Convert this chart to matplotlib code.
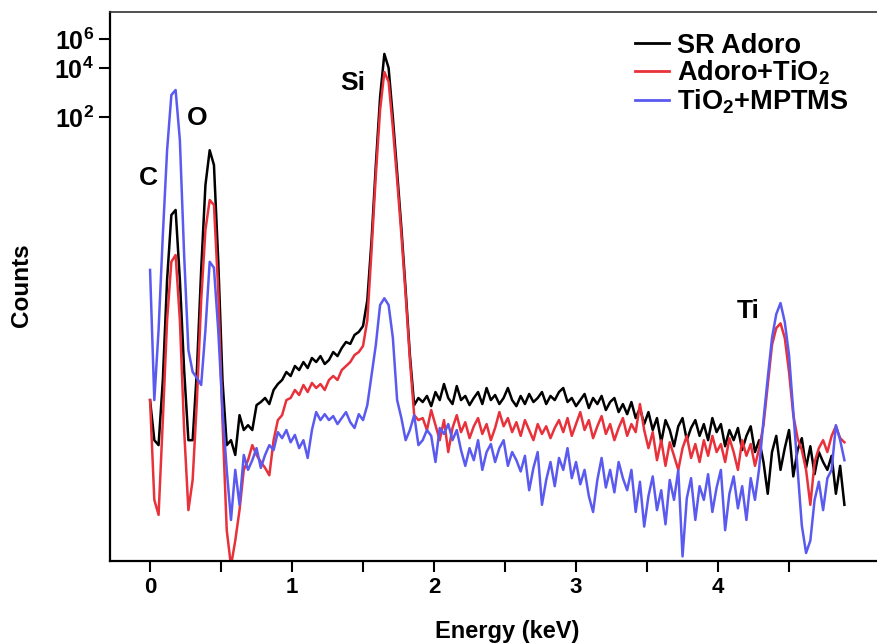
import numpy as np
import matplotlib
matplotlib.use("Agg")
import matplotlib.pyplot as plt

plt.rcParams["font.family"] = ["Liberation Sans", "DejaVu Sans"]
plt.rcParams["mathtext.fontset"] = "custom"
plt.rcParams["mathtext.rm"] = "Liberation Sans:bold"
plt.rcParams["mathtext.bf"] = "Liberation Sans:bold"
plt.rcParams["mathtext.default"] = "bf"

# EDS spectra, 0.03 keV per channel; values are log10(counts)
sr_adoro = [
    0.0365, 0.0207, 0.0193, 0.0485, 0.200, 0.500, 0.537, 0.200, 0.0558, 0.0207,
    0.0207, 0.0558, 0.230, 0.764, 1.25, 1.014, 0.265, 0.0485, 0.0193, 0.0207,
    0.0168, 0.0295, 0.0239, 0.0256, 0.0239, 0.0340, 0.0355, 0.0376, 0.0345, 0.0421,
    0.0458, 0.0485, 0.0543, 0.0513, 0.0591, 0.0558, 0.0625, 0.0574, 0.0662, 0.0625,
    0.0680, 0.0608, 0.0643, 0.0720, 0.0680, 0.0762, 0.0830, 0.0808, 0.0917, 0.0957,
    0.1040, 0.150, 0.351, 1.014, 2.65, 4.88, 4.00, 1.98, 0.918, 0.416,
    0.173, 0.0690, 0.0340, 0.0376, 0.0355, 0.0387, 0.0335, 0.0409, 0.0365, 0.0458,
    0.0376, 0.0345, 0.0445, 0.0365, 0.0387, 0.0340, 0.0376, 0.0409, 0.0345, 0.0433,
    0.0365, 0.0392, 0.0345, 0.0376, 0.0433, 0.0365, 0.0335, 0.0387, 0.0345, 0.0398,
    0.0355, 0.0376, 0.0409, 0.0345, 0.0387, 0.0365, 0.0409, 0.0433, 0.0355, 0.0376,
    0.0335, 0.0365, 0.0398, 0.0326, 0.0376, 0.0345, 0.0387, 0.0317, 0.0355, 0.0376,
    0.0308, 0.0345, 0.0299, 0.0355, 0.0283, 0.0326, 0.0260, 0.0308, 0.0239, 0.0283,
    0.0201, 0.0275, 0.0239, 0.0190, 0.0252, 0.0283, 0.0207, 0.0246, 0.0275, 0.0220,
    0.0260, 0.0207, 0.0283, 0.0232, 0.0260, 0.0190, 0.0239, 0.0207, 0.0246, 0.0180,
    0.0220, 0.0252, 0.0175, 0.0207, 0.0152, 0.0097, 0.0175, 0.0220, 0.0136, 0.0185,
    0.0239, 0.0124, 0.0180, 0.0213, 0.0140, 0.0190, 0.0128, 0.0175, 0.0152, 0.0136,
    0.0166, 0.0097, 0.0144, 0.0083,
]
adoro_tio2 = [
    0.0365, 0.0089, 0.0072, 0.0275, 0.113, 0.258, 0.284, 0.113, 0.0239, 0.0077,
    0.0118, 0.0365, 0.150, 0.405, 0.618, 0.576, 0.173, 0.0275, 0.0058, 0.0035,
    0.0050, 0.0077, 0.0136, 0.0156, 0.0193, 0.0168, 0.0152, 0.0140, 0.0126, 0.0207,
    0.0275, 0.0295, 0.0365, 0.0376, 0.0421, 0.0392, 0.0452, 0.0409, 0.0465, 0.0433,
    0.0458, 0.0421, 0.0485, 0.0513, 0.0485, 0.0558, 0.0591, 0.0625, 0.0690, 0.0720,
    0.0785, 0.113, 0.305, 0.880, 2.21, 3.78, 3.29, 1.71, 0.820, 0.377,
    0.161, 0.0643, 0.0295, 0.0275, 0.0283, 0.0239, 0.0317, 0.0256, 0.0207, 0.0275,
    0.0175, 0.0246, 0.0295, 0.0232, 0.0267, 0.0213, 0.0252, 0.0283, 0.0226, 0.0260,
    0.0207, 0.0246, 0.0308, 0.0252, 0.0283, 0.0232, 0.0267, 0.0220, 0.0275, 0.0239,
    0.0207, 0.0260, 0.0226, 0.0252, 0.0213, 0.0246, 0.0275, 0.0232, 0.0283, 0.0220,
    0.0260, 0.0308, 0.0239, 0.0275, 0.0213, 0.0252, 0.0291, 0.0226, 0.0260, 0.0207,
    0.0246, 0.0283, 0.0220, 0.0260, 0.0232, 0.0345, 0.0239, 0.0185, 0.0232, 0.0156,
    0.0207, 0.0144, 0.0201, 0.0166, 0.0136, 0.0185, 0.0220, 0.0161, 0.0196, 0.0152,
    0.0207, 0.0166, 0.0220, 0.0175, 0.0196, 0.0152, 0.0213, 0.0175, 0.0136, 0.0207,
    0.0166, 0.0196, 0.0144, 0.0185, 0.0256, 0.0452, 0.0796, 0.101, 0.108, 0.0879,
    0.0543, 0.0295, 0.0213, 0.0180, 0.0136, 0.0083, 0.0152, 0.0185, 0.0207, 0.0175,
    0.0220, 0.0252, 0.0213, 0.0201,
]
tio2_mptms = [
    0.230, 0.0365, 0.0984, 0.377, 1.25, 2.73, 2.93, 1.44, 0.284, 0.0741,
    0.0543, 0.0499, 0.0452, 0.0984, 0.258, 0.237, 0.0984, 0.0317, 0.0136, 0.0067,
    0.0136, 0.0083, 0.0168, 0.0136, 0.0156, 0.0185, 0.0140, 0.0168, 0.0193, 0.0180,
    0.0232, 0.0213, 0.0239, 0.0201, 0.0223, 0.0185, 0.0207, 0.0161, 0.0239, 0.0308,
    0.0275, 0.0299, 0.0275, 0.0291, 0.0260, 0.0283, 0.0308, 0.0267, 0.0246, 0.0299,
    0.0275, 0.0340, 0.0520, 0.0796, 0.140, 0.154, 0.140, 0.0879, 0.0365, 0.0283,
    0.0207, 0.0239, 0.0295, 0.0193, 0.0207, 0.0239, 0.0220, 0.0152, 0.0246, 0.0226,
    0.0260, 0.0207, 0.0239, 0.0180, 0.0144, 0.0185, 0.0156, 0.0207, 0.0136, 0.0175,
    0.0196, 0.0152, 0.0185, 0.0207, 0.0144, 0.0175, 0.0156, 0.0133, 0.0166, 0.0102,
    0.0140, 0.0175, 0.0083, 0.0118, 0.0152, 0.0108, 0.0161, 0.0136, 0.0185, 0.0121,
    0.0152, 0.0111, 0.0136, 0.0094, 0.0075, 0.0118, 0.0161, 0.0106, 0.0136, 0.0099,
    0.0152, 0.0121, 0.0102, 0.0136, 0.0075, 0.0115, 0.0061, 0.0094, 0.0124, 0.0077,
    0.0102, 0.0063, 0.0118, 0.0089, 0.0136, 0.0040, 0.0091, 0.0121, 0.0067, 0.0108,
    0.0089, 0.0128, 0.0075, 0.0106, 0.0136, 0.0058, 0.0097, 0.0124, 0.0079, 0.0108,
    0.0067, 0.0121, 0.0089, 0.0140, 0.0275, 0.0499, 0.0879, 0.123, 0.144, 0.110,
    0.0690, 0.0308, 0.0136, 0.0062, 0.0042, 0.0050, 0.0089, 0.0115, 0.0077, 0.0121,
    0.0136, 0.0256, 0.0207, 0.0156,
]
energy = np.round(np.arange(len(sr_adoro)) * 0.03, 2)

series_names = ["SR Adoro", r"Adoro+TiO$_2$", r"TiO$_2$+MPTMS"]
series_colors = ["#000000", "#e8313a", "#5a5af0"]

peak_labels = ["C", "O", "Si", "Ti"]
peak_x = [-0.01, 0.33, 1.43, 4.21]
peak_y = [0.84, 1.97, 3.24, 0.129]

fig = plt.figure(figsize=(8.78, 6.44), dpi=100)
ax = fig.add_axes([0.1253, 0.1289, 0.8827, 0.8525])

for vals, name, col in zip([sr_adoro, adoro_tio2, tio2_mptms], series_names, series_colors):
    ax.plot(energy, vals, color=col, lw=1.8, label=name)

ax.set_yscale("log")
ax.set_xlim(-0.282, 5.176)
ax.set_ylim(0.00375, 8.83)

ax.set_xticks([0, 1, 2, 3, 4])
ax.set_xticks([0.5, 1.5, 2.5, 3.5, 4.5], minor=True)
ax.set_yticks([2, 4, 6])
ax.set_yticklabels([r"$10^2$", r"$10^4$", r"$10^6$"])
ax.set_yticks([], minor=True)
ax.tick_params(axis="both", which="both", direction="out", length=8, width=1.5,
               labelsize=18)
ax.tick_params(axis="x", labelsize=16)
for lab in ax.get_xticklabels():
    lab.set_fontweight("bold")

for side in ["left", "bottom"]:
    ax.spines[side].set_linewidth(1.6)
ax.spines["top"].set_linewidth(1.2)
ax.spines["top"].set_color("#333333")
ax.spines["right"].set_visible(False)

for t, x, y in zip(peak_labels, peak_x, peak_y):
    ax.text(x, y, t, fontsize=19, fontweight="bold", ha="center", va="center")

fig.text(0.025, 0.557, "Counts", rotation=90, fontsize=17.5, fontweight="bold",
         ha="center", va="center")
fig.text(0.578, 0.019, "Energy (keV)", fontsize=17, fontweight="bold",
         ha="center", va="center")

leg = ax.legend(loc="upper left", bbox_to_anchor=(0.723, 0.949),
                bbox_transform=fig.transFigure, frameon=False,
                prop={"weight": "bold", "size": 19.5}, handlelength=1.25,
                handletextpad=0.3, labelspacing=0.0, borderpad=0,
                borderaxespad=0)
for line in leg.get_lines():
    line.set_linewidth(2)

fig.savefig("out.png", dpi=100)
